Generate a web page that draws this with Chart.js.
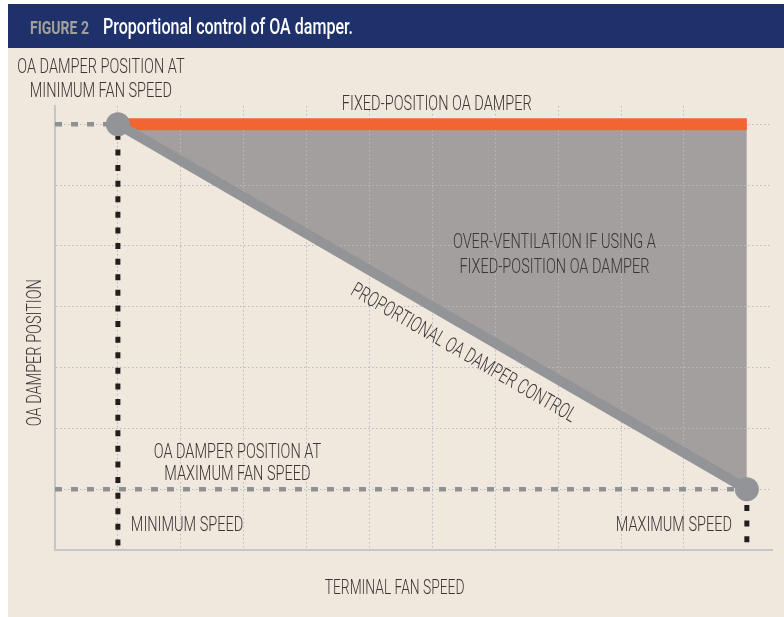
<!DOCTYPE html>
<html><head><meta charset="utf-8">
<script src="https://cdn.jsdelivr.net/npm/chart.js@4.4.1/dist/chart.umd.min.js"></script>
<style>
html,body{margin:0;padding:0;background:#fff;}
#wrap{position:absolute;left:8px;top:4px;width:776px;height:613px;background:#f0e8dd;}
canvas{display:block;}
</style></head><body>
<div id="wrap"><canvas id="c" width="776" height="613"></canvas></div>
<script>
// ---- Data (grid units) ----
const fanSpeed = [0, 10];              // minimum, maximum terminal fan speed
const fixedPosition = [7, 7];          // fixed-position OA damper
const proportionalPosition = [7, 1];   // proportional OA damper control
const xRange = [-1, 10.4];
const yRange = [0, 7.3];
const title = ['FIGURE 2', 'Proportional control of OA damper.'];
const axisTitles = ['TERMINAL FAN SPEED', 'OA DAMPER POSITION'];

const TEXT = '#3a3636';
const GRID = '#b5bac6';

const pts = (xs, ys) => xs.map((x, i) => ({x, y: ys[i]}));

function drawLabel(ctx, text, x, y, size, k, opt) {
  opt = opt || {};
  ctx.save();
  ctx.font = (opt.weight || 300) + ' ' + size + 'px Roboto';
  ctx.fillStyle = opt.color || TEXT;
  ctx.translate(x, y);
  if (opt.rot) ctx.rotate(opt.rot);
  const w = ctx.measureText(text).width;
  const sx = opt.width ? opt.width / w : k;
  ctx.scale(sx, 1);
  ctx.textBaseline = 'alphabetic';
  ctx.textAlign = opt.align || 'center';
  ctx.fillText(text, 0, size * 0.711 / 2);
  ctx.restore();
}

const headerPlugin = {
  id: 'header',
  beforeDraw(chart) {
    const ctx = chart.ctx;
    ctx.save();
    ctx.fillStyle = '#1f316a';
    ctx.fillRect(0, 0, chart.width, 44);
    ctx.restore();
    drawLabel(ctx, title[0], 22, 23, 19, 1, {weight: 700, color: '#a3a197', width: 59, align: 'left'});
    drawLabel(ctx, title[1], 95, 22.5, 22.5, 1, {weight: 500, color: '#ffffff', width: 250, align: 'left'});
  }
};

const labelPlugin = {
  id: 'labels',
  afterDatasetsDraw(chart) {
    const ctx = chart.ctx;
    const xs = chart.scales.x, ys = chart.scales.y, ca = chart.chartArea;
    const px = v => xs.getPixelForValue(v), py = v => ys.getPixelForValue(v);
    ctx.save();
    ctx.font = '300 21px Roboto';
    const K = 190 / ctx.measureText('FIXED-POSITION OA DAMPER').width;
    ctx.restore();
    const yTop = py(fixedPosition[0]);
    const yLow = py(proportionalPosition[1]);
    const yBase = py(0);
    drawLabel(ctx, 'OA DAMPER POSITION AT', px(-0.27), yTop - 58.5, 21, K);
    drawLabel(ctx, 'MINIMUM FAN SPEED', px(-0.27), yTop - 34.5, 21, K);
    drawLabel(ctx, 'FIXED-POSITION OA DAMPER', px(5.07), yTop - 21.5, 21, K);
    drawLabel(ctx, 'OVER-VENTILATION IF USING A', px(6.94), py(5.09), 21, K);
    drawLabel(ctx, 'FIXED-POSITION OA DAMPER', px(6.94), py(4.68), 21, K);
    drawLabel(ctx, 'OA DAMPER POSITION AT', px(1.9), yLow - 39, 21, K);
    drawLabel(ctx, 'MAXIMUM FAN SPEED', px(1.9), yLow - 16.5, 21, K);
    drawLabel(ctx, 'MINIMUM SPEED', px(1.1), yBase - 26.7, 21, K);
    drawLabel(ctx, 'MAXIMUM SPEED', px(8.84), yBase - 26.7, 21, K);
    drawLabel(ctx, axisTitles[0], px(4.4), ca.bottom + 37, 20, K);
    drawLabel(ctx, axisTitles[1], ca.left - 21.5, py(3.245), 21, K, {rot: -Math.PI / 2});
    // label along the proportional control line
    const x0 = px(fanSpeed[0]), y0 = py(proportionalPosition[0]);
    const x1 = px(fanSpeed[1]), y1 = py(proportionalPosition[1]);
    const a = Math.atan2(y1 - y0, x1 - x0);
    const L = Math.hypot(x1 - x0, y1 - y0);
    const t = 0.569 * L, d = 23.1;
    const cx = x0 + t * Math.cos(a) - d * Math.sin(a);
    const cy = y0 + t * Math.sin(a) + d * Math.cos(a);
    drawLabel(ctx, 'PROPORTIONAL OA DAMPER CONTROL', cx, cy, 21, K, {rot: a});
  }
};

const integerTicks = s => { s.ticks = s.ticks.filter(t => Number.isInteger(t.value)); };

const scaleCommon = {
  type: 'linear',
  afterBuildTicks: integerTicks,
  ticks: {display: false, stepSize: 1, maxTicksLimit: 30},
  grid: {color: GRID, lineWidth: 1, drawTicks: false},
  border: {display: true, color: '#c3c6cc', width: 2, dash: [1.5, 2.5]}
};

new Chart(document.getElementById('c'), {
  type: 'line',
  data: {
    datasets: [
      { // fixed-position damper (orange) with over-ventilation fill
        data: pts(fanSpeed, fixedPosition),
        borderColor: '#f26430', borderWidth: 12, borderCapStyle: 'butt',
        backgroundColor: '#a49f9f', fill: {target: 1},
        pointRadius: 0, order: 2
      },
      { // proportional control
        data: pts(fanSpeed, proportionalPosition),
        borderColor: '#929497', borderWidth: 10, borderCapStyle: 'butt',
        pointRadius: 12, pointBackgroundColor: '#929497', pointBorderWidth: 0,
        fill: false, order: 0
      },
      { // position at minimum fan speed reference
        data: pts([xRange[0], fanSpeed[0]], [proportionalPosition[0], proportionalPosition[0]]),
        borderColor: '#8e9093', borderWidth: 4.5, borderDash: [7, 9], borderCapStyle: 'butt',
        pointRadius: 0, fill: false, order: 5
      },
      { // position at maximum fan speed reference
        data: pts([xRange[0], fanSpeed[1]], [proportionalPosition[1], proportionalPosition[1]]),
        borderColor: '#8e9093', borderWidth: 4.5, borderDash: [7, 9], borderCapStyle: 'butt',
        pointRadius: 0, fill: false, order: 5
      },
      { // minimum speed marker
        data: pts([fanSpeed[0], fanSpeed[0]], [proportionalPosition[0], 0]),
        borderColor: '#221e1f', borderWidth: 5, borderDash: [6, 9.6], borderDashOffset: 6, borderCapStyle: 'butt',
        pointRadius: 0, fill: false, order: 4
      },
      { // maximum speed marker
        data: pts([fanSpeed[1], fanSpeed[1]], [proportionalPosition[1], 0]),
        borderColor: '#221e1f', borderWidth: 5, borderDash: [6, 9.7], borderDashOffset: 0, borderCapStyle: 'butt',
        pointRadius: 0, fill: false, order: 4
      }
    ]
  },
  options: {
    responsive: false, animation: false, devicePixelRatio: 1,
    layout: {padding: {left: 47, top: 102, right: 12, bottom: 67}},
    scales: {
      x: Object.assign({}, scaleCommon, {min: xRange[0], max: xRange[1]}),
      y: Object.assign({}, scaleCommon, {min: yRange[0], max: yRange[1]})
    },
    plugins: {
      legend: {display: false},
      tooltip: {enabled: false},
      filler: {drawTime: 'beforeDraw'}
    },
    elements: {line: {tension: 0}}
  },
  plugins: [headerPlugin, labelPlugin]
});
</script>
</body></html>
